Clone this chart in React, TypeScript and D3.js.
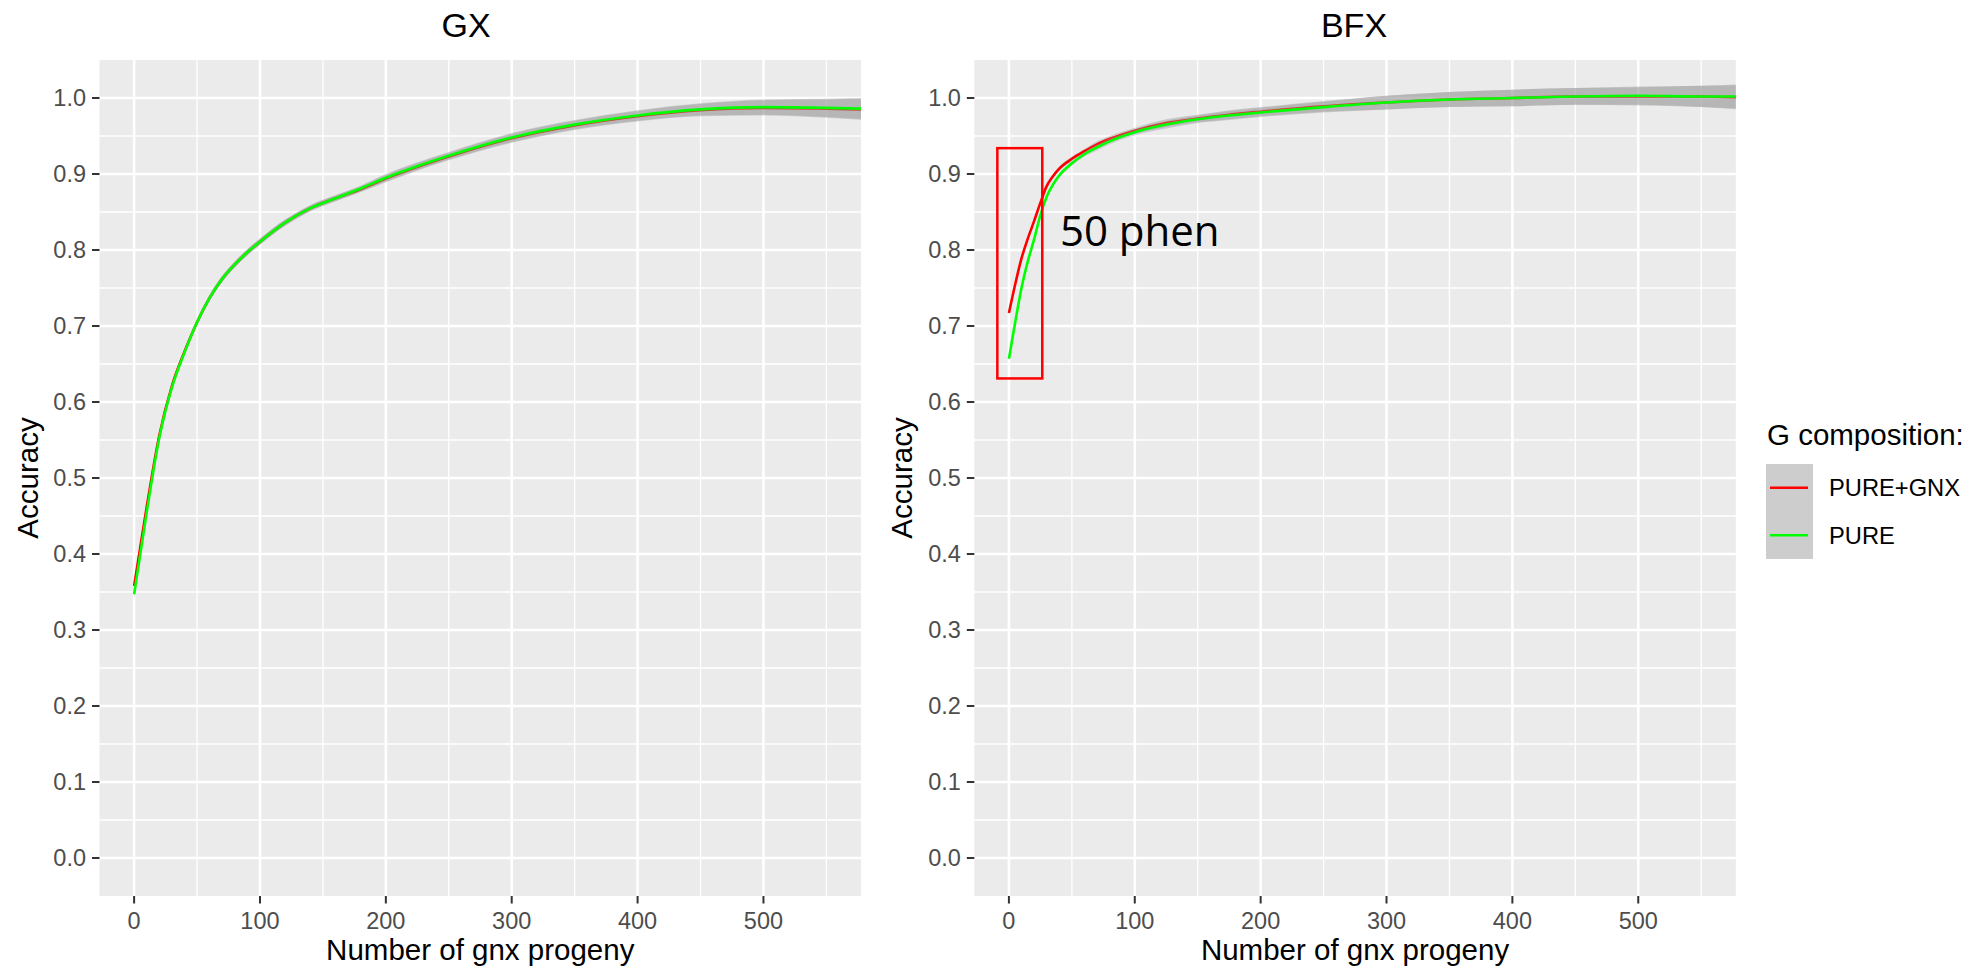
import { useRef, useEffect } from 'react';
import * as d3 from 'd3';

// GX panel: smoothed accuracy vs number of gnx progeny
const gxProgeny = [0, 10, 20, 30, 40, 50, 60, 70, 80, 90, 100, 120, 140, 160, 180, 200, 250, 300, 350, 400, 450, 500, 550, 580];
const gxPureGnx = [0.358, 0.462, 0.556, 0.621, 0.666, 0.705, 0.737, 0.762, 0.781, 0.797, 0.811, 0.836, 0.855, 0.868, 0.880, 0.894, 0.923, 0.947, 0.964, 0.976, 0.984, 0.987, 0.986, 0.985];
const gxPure = [0.347, 0.455, 0.553, 0.619, 0.665, 0.705, 0.737, 0.762, 0.781, 0.797, 0.811, 0.836, 0.855, 0.868, 0.881, 0.895, 0.924, 0.948, 0.965, 0.977, 0.985, 0.988, 0.987, 0.986];
const gxSe = [0.006, 0.005, 0.005, 0.004, 0.004, 0.004, 0.004, 0.004, 0.004, 0.004, 0.004, 0.004, 0.004, 0.004, 0.004, 0.005, 0.005, 0.006, 0.006, 0.007, 0.008, 0.010, 0.012, 0.014];

// BFX panel
const bfxProgeny = [0, 5, 10, 15, 20, 25, 30, 35, 40, 50, 60, 70, 80, 100, 125, 150, 175, 200, 250, 300, 350, 400, 450, 500, 550, 580];
const bfxPureGnx = [0.717, 0.755, 0.789, 0.815, 0.838, 0.862, 0.884, 0.897, 0.907, 0.920, 0.930, 0.939, 0.946, 0.957, 0.967, 0.973, 0.978, 0.982, 0.989, 0.994, 0.998, 1.000, 1.002, 1.002, 1.002, 1.001];
const bfxPure = [0.657, 0.705, 0.750, 0.785, 0.814, 0.846, 0.870, 0.886, 0.898, 0.914, 0.926, 0.935, 0.943, 0.955, 0.965, 0.972, 0.977, 0.981, 0.988, 0.994, 0.998, 1.000, 1.002, 1.003, 1.002, 1.002];
const bfxSe = [0.003, 0.003, 0.003, 0.003, 0.003, 0.003, 0.003, 0.003, 0.003, 0.003, 0.003, 0.004, 0.004, 0.004, 0.005, 0.005, 0.006, 0.006, 0.007, 0.009, 0.010, 0.011, 0.011, 0.012, 0.014, 0.016];

const xTicks = [0, 100, 200, 300, 400, 500];
const xMinor = [50, 150, 250, 350, 450, 550];
const yTicks = [0, 0.1, 0.2, 0.3, 0.4, 0.5, 0.6, 0.7, 0.8, 0.9, 1.0];
const yMinor = [0.05, 0.15, 0.25, 0.35, 0.45, 0.55, 0.65, 0.75, 0.85, 0.95];
const seriesNames = ['PURE+GNX', 'PURE'];
const seriesColors = ['#ff0000', '#00ff00'];

// hand-drawn annotation on the BFX panel, in data units
const boxProgeny = [-9.2, 26.5];
const boxAccuracy = [0.631, 0.934];
const noteLabel = '50 phen';
const notePos = [40.5, 0.805];

const FONT = '"Liberation Sans", Arial, sans-serif';

export default function App() {
  const svgRef = useRef<SVGSVGElement>(null);

  function drawPanel(svg: any, left: number, titleX: number, title: string, xs: number[], red: number[], green: number[], se: number[], id: string) {
    const top = 60, bottom = 896, width = 761.5;
    const x = d3.scaleLinear().domain([-27.5, 577.5]).range([left, left + width]);
    const y = d3.scaleLinear().domain([-0.05, 1.05]).range([bottom, top]);

    svg.append('rect')
      .attr('x', left).attr('y', top)
      .attr('width', width).attr('height', bottom - top)
      .attr('fill', '#ebebeb');

    svg.append('clipPath').attr('id', id)
      .append('rect')
      .attr('x', left).attr('y', top)
      .attr('width', width).attr('height', bottom - top);

    const grid = svg.append('g');
    grid.selectAll('.vminor').data(xMinor).join('line')
      .attr('x1', (d: number) => x(d)).attr('x2', (d: number) => x(d))
      .attr('y1', top).attr('y2', bottom)
      .attr('stroke', '#fff').attr('stroke-width', 1.3);
    grid.selectAll('.hminor').data(yMinor).join('line')
      .attr('y1', (d: number) => y(d)).attr('y2', (d: number) => y(d))
      .attr('x1', left).attr('x2', left + width)
      .attr('stroke', '#fff').attr('stroke-width', 1.3);
    grid.append('g').selectAll('line').data(xTicks).join('line')
      .attr('x1', (d: number) => x(d)).attr('x2', (d: number) => x(d))
      .attr('y1', top).attr('y2', bottom)
      .attr('stroke', '#fff').attr('stroke-width', 2.6);
    grid.append('g').selectAll('line').data(yTicks).join('line')
      .attr('y1', (d: number) => y(d)).attr('y2', (d: number) => y(d))
      .attr('x1', left).attr('x2', left + width)
      .attr('stroke', '#fff').attr('stroke-width', 2.6);

    // smooth lines + se ribbons, drawn per group like geom_smooth
    const plot = svg.append('g').attr('clip-path', `url(#${id})`);
    [red, green].forEach((vals, i) => {
      const pts = xs.map((d, j) => ({ x: d, y: vals[j], se: se[j] }));
      const area = d3.area<any>()
        .x(d => x(d.x)).y0(d => y(d.y - d.se)).y1(d => y(d.y + d.se))
        .curve(d3.curveMonotoneX);
      const line = d3.line<any>()
        .x(d => x(d.x)).y(d => y(d.y))
        .curve(d3.curveMonotoneX);
      plot.append('path').attr('d', area(pts))
        .attr('fill', '#999999').attr('fill-opacity', 0.4);
      plot.append('path').attr('d', line(pts))
        .attr('fill', 'none').attr('stroke', seriesColors[i]).attr('stroke-width', 2.6);
    });

    // axes
    svg.append('g').selectAll('line').data(xTicks).join('line')
      .attr('x1', (d: number) => x(d)).attr('x2', (d: number) => x(d))
      .attr('y1', bottom).attr('y2', bottom + 7.5)
      .attr('stroke', '#333').attr('stroke-width', 2);
    svg.append('g').selectAll('text').data(xTicks).join('text')
      .attr('x', (d: number) => x(d)).attr('y', 928.5)
      .attr('text-anchor', 'middle')
      .attr('font-family', FONT).attr('font-size', 23.5).attr('fill', '#4d4d4d')
      .text((d: number) => d3.format('d')(d));
    svg.append('g').selectAll('line').data(yTicks).join('line')
      .attr('y1', (d: number) => y(d)).attr('y2', (d: number) => y(d))
      .attr('x1', left - 7.5).attr('x2', left)
      .attr('stroke', '#333').attr('stroke-width', 2);
    svg.append('g').selectAll('text').data(yTicks).join('text')
      .attr('x', left - 13.5).attr('y', (d: number) => y(d))
      .attr('dy', '0.36em')
      .attr('text-anchor', 'end')
      .attr('font-family', FONT).attr('font-size', 23.5).attr('fill', '#4d4d4d')
      .text((d: number) => d3.format('.1f')(d));

    svg.append('text')
      .attr('x', left + width / 2).attr('y', 960)
      .attr('text-anchor', 'middle')
      .attr('font-family', FONT).attr('font-size', 29.5).attr('fill', '#000')
      .text('Number of gnx progeny');
    svg.append('text')
      .attr('transform', `translate(${left - 62},${(top + bottom) / 2}) rotate(-90)`)
      .attr('text-anchor', 'middle')
      .attr('font-family', FONT).attr('font-size', 29.5).attr('fill', '#000')
      .text('Accuracy');
    svg.append('text')
      .attr('x', titleX).attr('y', 37)
      .attr('text-anchor', 'middle')
      .attr('font-family', FONT).attr('font-size', 34).attr('fill', '#000')
      .text(title);

    return { x, y };
  }

  useEffect(() => {
    const svg = d3.select(svgRef.current);
    svg.selectAll('*').remove();

    drawPanel(svg, 99.5, 466, 'GX', gxProgeny, gxPureGnx, gxPure, gxSe, 'clip-gx');
    const { x, y } = drawPanel(svg, 974.3, 1354, 'BFX', bfxProgeny, bfxPureGnx, bfxPure, bfxSe, 'clip-bfx');

    // annotation
    svg.append('rect')
      .attr('x', x(boxProgeny[0])).attr('y', y(boxAccuracy[1]))
      .attr('width', x(boxProgeny[1]) - x(boxProgeny[0]))
      .attr('height', y(boxAccuracy[0]) - y(boxAccuracy[1]))
      .attr('fill', 'none').attr('stroke', '#ff0000').attr('stroke-width', 2.5);
    svg.append('text')
      .attr('x', x(notePos[0])).attr('y', y(notePos[1]))
      .attr('font-family', '"Open Sans", "Noto Sans", sans-serif').attr('font-size', 42).attr('fill', '#000')
      .text(noteLabel);

    // legend
    const legend = svg.append('g');
    legend.append('text')
      .attr('x', 1767).attr('y', 445)
      .attr('font-family', FONT).attr('font-size', 29.5).attr('fill', '#000')
      .text('G composition:');
    legend.append('rect')
      .attr('x', 1766).attr('y', 464).attr('width', 47).attr('height', 95)
      .attr('fill', '#cdcdcd');
    seriesNames.forEach((name, i) => {
      const cy = 464 + 47.5 * (i + 0.5);
      legend.append('line')
        .attr('x1', 1770).attr('x2', 1808).attr('y1', cy).attr('y2', cy)
        .attr('stroke', seriesColors[i]).attr('stroke-width', 2.6);
      legend.append('text')
        .attr('x', 1829).attr('y', cy).attr('dy', '0.36em')
        .attr('font-family', FONT).attr('font-size', 23.7).attr('fill', '#000')
        .text(name);
    });
  }, []);

  return (
    <svg ref={svgRef} width={1977} height={971}
      style={{ position: 'absolute', left: 0, top: 0, background: '#fff' }} />
  );
}
